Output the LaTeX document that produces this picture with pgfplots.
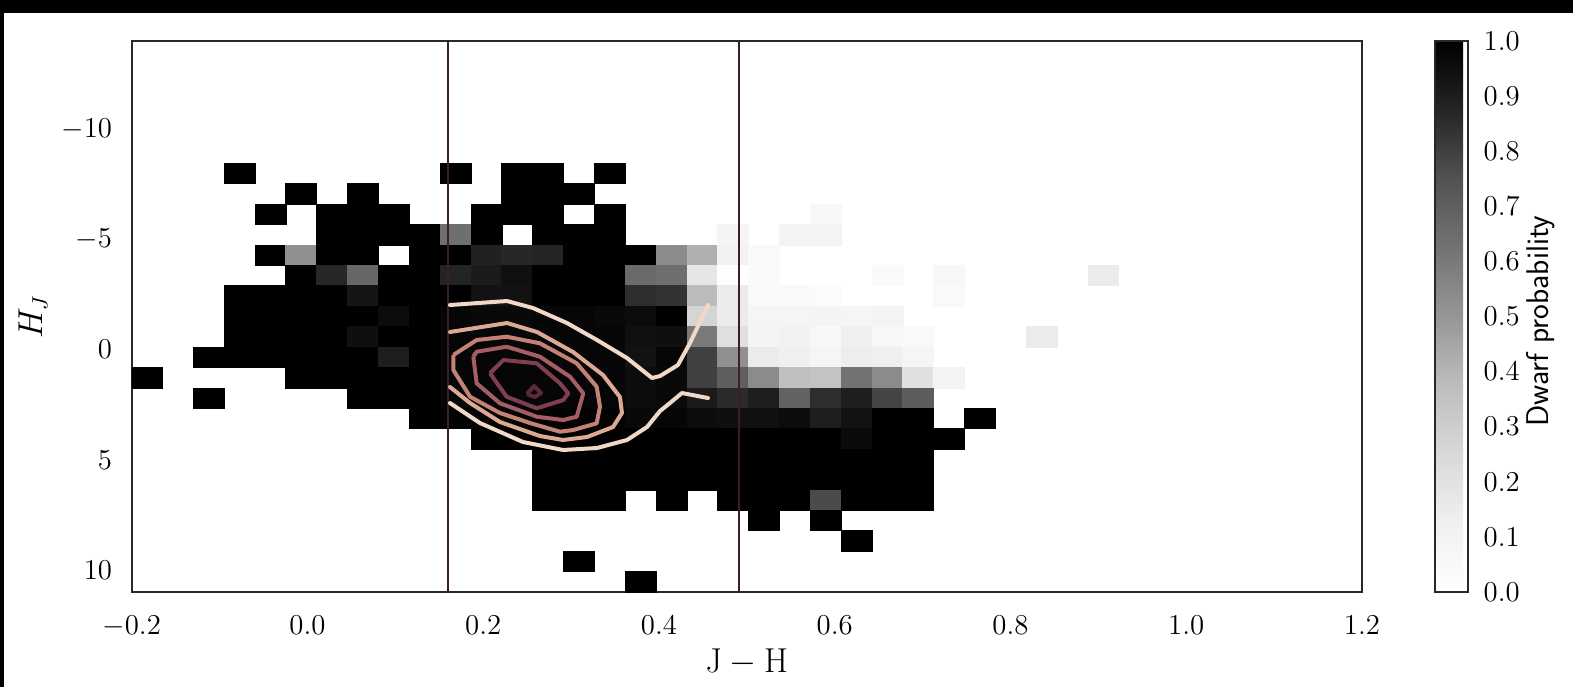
\documentclass[border=0pt]{standalone}
\usepackage{pgfplots}
\pgfplotsset{compat=1.18}
\usepackage{pgfplotstable}
\definecolor{vline}{RGB}{62,28,44}
\definecolor{cA}{RGB}{242,216,200}
\definecolor{cB}{RGB}{220,170,148}
\definecolor{cC}{RGB}{196,130,116}
\definecolor{cD}{RGB}{164,94,100}
\definecolor{cE}{RGB}{128,62,80}
\definecolor{cF}{RGB}{92,42,60}
\definecolor{frame}{RGB}{40,40,40}
\pgfdeclareplotmark{cell}{\pgfpathrectangle{\pgfpoint{-7.72pt}{-5.1pt}}{\pgfpoint{15.44pt}{10.2pt}}\pgfusepathqfillstroke}

\pgfplotstableread{
x y v
-0.0772 -7.983 1
0.1686 -7.983 1
0.2388 -7.983 1
0.2739 -7.983 1
0.3441 -7.983 1
-0.0070 -7.057 1
0.0633 -7.057 1
0.2388 -7.057 1
0.2739 -7.057 1
0.3090 -7.057 1
-0.0421 -6.131 1
0.0282 -6.131 1
0.0633 -6.131 1
0.0984 -6.131 1
0.2037 -6.131 1
0.2388 -6.131 1
0.2739 -6.131 1
0.3441 -6.131 1
0.5898 -6.131 0.06
0.0282 -5.205 1
0.0633 -5.205 1
0.0984 -5.205 1
0.1335 -5.205 1
0.1686 -5.205 0.64
0.2037 -5.205 1
0.2739 -5.205 1
0.3090 -5.205 1
0.3441 -5.205 1
0.4845 -5.205 0.09
0.5547 -5.205 0.09
0.5898 -5.205 0.09
-0.0421 -4.279 1
-0.0070 -4.279 0.52
0.0282 -4.279 1
0.0633 -4.279 1
0.1335 -4.279 1
0.1686 -4.279 1
0.2037 -4.279 0.89
0.2388 -4.279 0.87
0.2739 -4.279 0.88
0.3090 -4.279 1
0.3441 -4.279 1
0.3792 -4.279 1
0.4143 -4.279 0.54
0.4494 -4.279 0.42
0.4845 -4.279 0.11
0.5196 -4.279 0.05
-0.0070 -3.353 1
0.0282 -3.353 0.87
0.0633 -3.353 0.67
0.0984 -3.353 1
0.1335 -3.353 1
0.1686 -3.353 0.88
0.2037 -3.353 0.91
0.2388 -3.353 0.945
0.2739 -3.353 1
0.3090 -3.353 1
0.3441 -3.353 1
0.3792 -3.353 0.66
0.4143 -3.353 0.64
0.4494 -3.353 0.18
0.4845 -3.353 0.01
0.5196 -3.353 0.04
0.6600 -3.353 0.04
0.7302 -3.353 0.07
0.9057 -3.353 0.15
-0.0772 -2.427 1
-0.0421 -2.427 1
-0.0070 -2.427 1
0.0282 -2.427 1
0.0633 -2.427 0.93
0.0984 -2.427 1
0.1335 -2.427 1
0.1686 -2.427 1
0.2037 -2.427 0.94
0.2388 -2.427 0.94
0.2739 -2.427 1
0.3090 -2.427 1
0.3441 -2.427 1
0.3792 -2.427 0.85
0.4143 -2.427 0.84
0.4494 -2.427 0.38
0.4845 -2.427 0.15
0.5196 -2.427 0.05
0.5547 -2.427 0.05
0.5898 -2.427 0.03
0.7302 -2.427 0.05
-0.0772 -1.501 1
-0.0421 -1.501 1
-0.0070 -1.501 1
0.0282 -1.501 1
0.0633 -1.501 1
0.0984 -1.501 0.96
0.1335 -1.501 1
0.1686 -1.501 0.98
0.2037 -1.501 0.97
0.2388 -1.501 0.97
0.2739 -1.501 0.98
0.3090 -1.501 0.98
0.3441 -1.501 0.97
0.3792 -1.501 0.96
0.4143 -1.501 1
0.4494 -1.501 0.27
0.4845 -1.501 0.15
0.5196 -1.501 0.08
0.5547 -1.501 0.08
0.5898 -1.501 0.09
0.6249 -1.501 0.08
0.6600 -1.501 0.09
-0.0772 -0.575 1
-0.0421 -0.575 1
-0.0070 -0.575 1
0.0282 -0.575 1
0.0633 -0.575 0.95
0.0984 -0.575 1
0.1335 -0.575 1
0.1686 -0.575 0.98
0.2037 -0.575 0.98
0.2388 -0.575 0.98
0.2739 -0.575 0.98
0.3090 -0.575 0.98
0.3441 -0.575 0.98
0.3792 -0.575 0.945
0.4143 -0.575 0.95
0.4494 -0.575 0.60
0.4845 -0.575 0.22
0.5196 -0.575 0.09
0.5547 -0.575 0.11
0.5898 -0.575 0.06
0.6249 -0.575 0.13
0.6600 -0.575 0.07
0.6951 -0.575 0.05
0.8355 -0.575 0.15
-0.1123 0.351 1
-0.0772 0.351 1
-0.0421 0.351 1
-0.0070 0.351 1
0.0282 0.351 1
0.0633 0.351 1
0.0984 0.351 0.90
0.1335 0.351 1
0.1686 0.351 0.98
0.2037 0.351 0.98
0.2388 0.351 0.98
0.2739 0.351 0.98
0.3090 0.351 0.98
0.3441 0.351 0.98
0.3792 0.351 0.94
0.4143 0.351 0.98
0.4494 0.351 0.80
0.4845 0.351 0.52
0.5196 0.351 0.15
0.5547 0.351 0.13
0.5898 0.351 0.08
0.6249 0.351 0.14
0.6600 0.351 0.13
0.6951 0.351 0.08
-0.1824 1.277 1
-0.0070 1.277 1
0.0282 1.277 1
0.0633 1.277 1
0.0984 1.277 1
0.1335 1.277 1
0.1686 1.277 0.98
0.2037 1.277 0.98
0.2388 1.277 0.98
0.2739 1.277 0.98
0.3090 1.277 0.98
0.3441 1.277 0.98
0.3792 1.277 0.96
0.4143 1.277 0.97
0.4494 1.277 0.80
0.4845 1.277 0.70
0.5196 1.277 0.54
0.5547 1.277 0.36
0.5898 1.277 0.35
0.6249 1.277 0.63
0.6600 1.277 0.54
0.6951 1.277 0.21
0.7302 1.277 0.10
-0.1123 2.203 1
0.0633 2.203 1
0.0984 2.203 1
0.1335 2.203 1
0.1686 2.203 0.98
0.2037 2.203 0.98
0.2388 2.203 0.98
0.2739 2.203 0.98
0.3090 2.203 0.98
0.3441 2.203 0.98
0.3792 2.203 0.96
0.4143 2.203 0.97
0.4494 2.203 0.91
0.4845 2.203 0.86
0.5196 2.203 0.90
0.5547 2.203 0.69
0.5898 2.203 0.85
0.6249 2.203 0.90
0.6600 2.203 0.79
0.6951 2.203 0.71
0.1335 3.129 1
0.1686 3.129 0.99
0.2037 3.129 0.99
0.2388 3.129 0.99
0.2739 3.129 0.99
0.3090 3.129 0.99
0.3441 3.129 0.99
0.3792 3.129 0.97
0.4143 3.129 0.98
0.4494 3.129 0.96
0.4845 3.129 0.95
0.5196 3.129 0.945
0.5547 3.129 0.96
0.5898 3.129 0.90
0.6249 3.129 0.94
0.6600 3.129 1
0.6951 3.129 1
0.7653 3.129 1
0.2037 4.055 1
0.2388 4.055 1
0.2739 4.055 1
0.3090 4.055 1
0.3441 4.055 1
0.3792 4.055 1
0.4143 4.055 1
0.4494 4.055 1
0.4845 4.055 1
0.5196 4.055 1
0.5547 4.055 1
0.5898 4.055 1
0.6249 4.055 0.965
0.6600 4.055 1
0.6951 4.055 1
0.7302 4.055 1
0.2739 4.981 1
0.3090 4.981 1
0.3441 4.981 1
0.3792 4.981 1
0.4143 4.981 1
0.4494 4.981 1
0.4845 4.981 1
0.5196 4.981 1
0.5547 4.981 1
0.5898 4.981 1
0.6249 4.981 1
0.6600 4.981 1
0.6951 4.981 1
0.2739 5.907 1
0.3090 5.907 1
0.3441 5.907 1
0.3792 5.907 1
0.4143 5.907 1
0.4494 5.907 1
0.4845 5.907 1
0.5196 5.907 1
0.5547 5.907 1
0.5898 5.907 1
0.6249 5.907 1
0.6600 5.907 1
0.6951 5.907 1
0.2739 6.833 1
0.3090 6.833 1
0.3441 6.833 1
0.4143 6.833 1
0.4845 6.833 1
0.5196 6.833 1
0.5547 6.833 1
0.5898 6.833 0.77
0.6249 6.833 1
0.6600 6.833 1
0.6951 6.833 1
0.5196 7.759 1
0.5898 7.759 1
0.6249 8.685 1
0.3090 9.611 1
0.3792 10.537 1
}\cells

\begin{document}
\begin{tikzpicture}
\fill[white] (-65.85pt,-47.5pt) rectangle (720.65pt,296pt);
\fill[black] (-65.85pt,289.5pt) rectangle (720.65pt,296pt);
\fill[black] (-65.85pt,-47.5pt) rectangle (-63.85pt,296pt);
\path[use as bounding box] (-65.85pt,-47.5pt) rectangle (720.65pt,296pt);
\begin{axis}[
  at={(0pt,0pt)}, anchor=south west,
  scale only axis, width=615.15pt, height=275.5pt,
  xmin=-0.2, xmax=1.2, ymin=-14, ymax=11, y dir=reverse,
  clip marker paths=true,
  xtick={-0.2,0,0.2,0.4,0.6,0.8,1.0,1.2},
  ytick={-10,-5,0,5,10},
  major tick length=0pt,
  axis line style={frame, line width=1pt},
  xticklabel style={font=\fontsize{14}{16}\selectfont, yshift=-8.5pt, /pgf/number format/.cd, fixed, fixed zerofill, precision=1},
  yticklabel style={font=\fontsize{14}{16}\selectfont, xshift=-6.3pt},
  xlabel={$\mathrm{J}-\mathrm{H}$},
  ylabel={$H_J$},
  every axis x label/.style={at={(axis description cs:0.5,-0.127)}, anchor=center, font=\fontsize{16}{18}\selectfont},
  every axis y label/.style={at={(axis description cs:-0.0802,0.5)}, anchor=center, rotate=90, font=\fontsize{16}{18}\selectfont},
  colormap={greys}{rgb255=(255,255,255) rgb255=(240,240,240) rgb255=(217,217,217) rgb255=(189,189,189) rgb255=(150,150,150) rgb255=(115,115,115) rgb255=(82,82,82) rgb255=(37,37,37) rgb255=(0,0,0)},
  point meta min=0, point meta max=1,
  colorbar,
  colorbar style={
    at={(parent axis.north east)}, anchor=north west, xshift=27.75pt,
    scale only axis, width=16.5pt, height=275.5pt,
    ytick={0,0.1,0.2,0.3,0.4,0.5,0.6,0.7,0.8,0.9,1},
    major tick length=0pt,
    axis line style={frame, line width=1pt},
    yticklabel style={font=\fontsize{14.5}{16}\selectfont, xshift=4.5pt, /pgf/number format/.cd, fixed, fixed zerofill, precision=1},
  },
]
\addplot[scatter, only marks, mark=cell, line width=0.4pt,
  scatter/use mapped color={draw=mapped color, fill=mapped color},
  point meta=explicit] table[x=x, y=y, meta=v] {\cells};

\addplot[vline, line width=1.1pt] coordinates {(0.1603,-14) (0.1603,11)};
\addplot[vline, line width=1.1pt] coordinates {(0.4907,-14) (0.4907,11)};

\addplot[cA, line width=2pt, line join=round, line cap=round] coordinates {(0.4558,-2.022) (0.4353,-0.298) (0.4216,0.701) (0.4012,1.200) (0.3921,1.290) (0.3636,0.383) (0.3295,-0.434) (0.2953,-1.205) (0.2566,-1.886) (0.2271,-2.203) (0.1622,-2.022)};
\addplot[cA, line width=2pt, line join=round, line cap=round] coordinates {(0.1622,2.425) (0.1963,3.332) (0.2453,4.194) (0.2908,4.557) (0.3295,4.466) (0.3636,4.103) (0.3864,3.514) (0.4012,2.788) (0.4125,2.425) (0.4262,1.971) (0.4558,2.198)};
\addplot[cB, line width=2pt, line join=round, line cap=round] coordinates {(0.1622,-0.797) (0.2271,-1.205) (0.2612,-0.797) (0.3022,0.111) (0.3363,1.154) (0.3556,2.152) (0.3579,2.878) (0.3477,3.514) (0.3181,3.967) (0.2908,4.103) (0.2646,3.922) (0.2191,3.287) (0.1850,2.425) (0.1622,1.699)};
\addplot[cC, line width=2pt, line join=round] coordinates {(0.1660,0.247) (0.1926,-0.434) (0.2267,-0.584) (0.2646,-0.284) (0.3064,0.623) (0.3291,1.685) (0.3329,2.592) (0.3291,3.346) (0.3025,3.650) (0.2874,3.727) (0.2532,3.332) (0.2191,2.878) (0.1850,2.139) (0.1660,0.927) (0.1660,0.247)};
\addplot[cD, line width=2pt, line join=round] coordinates {(0.1887,0.324) (0.1926,0.097) (0.2267,-0.130) (0.2646,0.324) (0.2988,1.231) (0.3139,1.984) (0.3064,3.046) (0.2911,3.196) (0.2609,3.046) (0.2191,2.438) (0.1926,1.531) (0.1887,0.324)};
\addplot[cE, line width=2pt, line join=round] coordinates {(0.2077,1.077) (0.2229,0.474) (0.2609,0.623) (0.2874,1.531) (0.2968,1.984) (0.2911,2.289) (0.2609,2.665) (0.2267,2.139) (0.2077,1.077)};
\addplot[cF, line width=2pt, line join=round] coordinates {(0.2498,2.016) (0.2578,1.653) (0.2658,1.971) (0.2589,2.152) (0.2498,2.016)};
\end{axis}
\node[rotate=90, font=\sffamily\fontsize{15.7}{18}\selectfont] at (704.6pt,135.5pt) {Dwarf probability};
\end{tikzpicture}
\end{document}
